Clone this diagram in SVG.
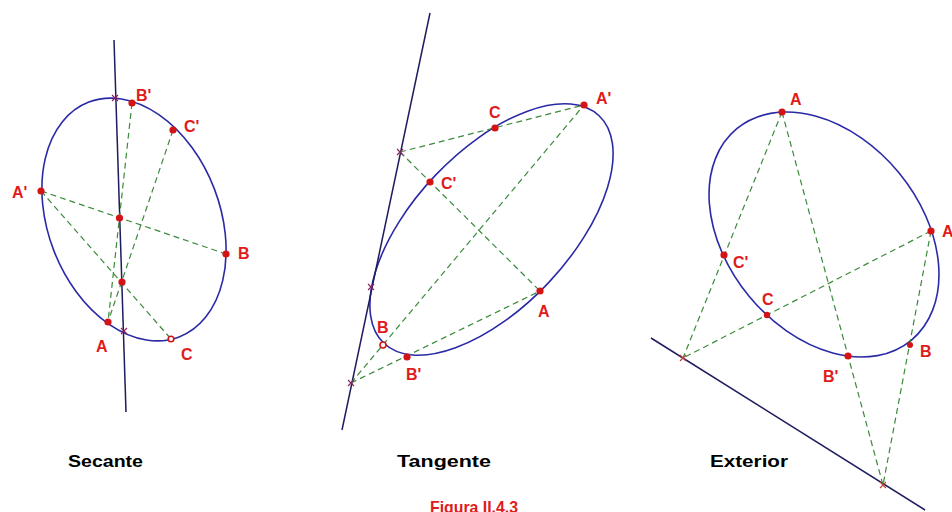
<svg xmlns="http://www.w3.org/2000/svg" width="952" height="512" viewBox="0 0 952 512">
<style>
.ell{fill:none;stroke:#2a2aa6;stroke-width:1.6}
.ln{fill:none;stroke:#1c1c5e;stroke-width:1.5}
.ds{fill:none;stroke:#3b8a3b;stroke-width:1.2;stroke-dasharray:6 4}
.pt{fill:#d41414}
.hpt{fill:#fff;stroke:#d41414;stroke-width:1.6}
.x{stroke:#8a2060;stroke-width:1.1}
.lb{font-family:"Liberation Sans",Arial,sans-serif;font-weight:bold;font-size:16px;fill:#e01b1b}
.tt{font-family:"Liberation Sans",Arial,sans-serif;font-weight:bold;font-size:17px;fill:#000}
</style>
<rect width="952" height="512" fill="#fff"/>

<g id="secante">
  <ellipse class="ell" cx="134" cy="219.5" rx="125.8" ry="86" transform="rotate(68.95 134 219.5)"/>
  <line class="ln" x1="114" y1="40" x2="126" y2="412"/>
  <g id="secante-connectors">
    <line class="ds" x1="41" y1="191" x2="226" y2="254"/>
    <line class="ds" x1="41" y1="191" x2="171" y2="339"/>
    <line class="ds" x1="132" y1="103" x2="108" y2="322"/>
    <line class="ds" x1="173" y1="130" x2="108" y2="322"/>
  </g>
  <path class="x" d="M112 95l6 6M118 95l-6 6M121 328l6 6M127 328l-6 6"/>
  <circle class="pt" cx="41" cy="191" r="3.6"/>
  <circle class="pt" cx="226" cy="254" r="3.6"/>
  <circle class="hpt" cx="171" cy="339" r="2.8"/>
  <circle class="pt" cx="108" cy="322" r="3.6"/>
  <circle class="pt" cx="132" cy="103" r="3.6"/>
  <circle class="pt" cx="173" cy="130" r="3.6"/>
  <circle class="pt" cx="119.5" cy="218" r="3.6"/>
  <circle class="pt" cx="122" cy="282" r="3.6"/>
  <text class="lb" x="136" y="101">B'</text>
  <text class="lb" x="184" y="132">C'</text>
  <text class="lb" x="12" y="198">A'</text>
  <text class="lb" x="238" y="259">B</text>
  <text class="lb" x="96" y="352">A</text>
  <text class="lb" x="181" y="360">C</text>
  <text class="tt" x="68" y="467" textLength="75" lengthAdjust="spacingAndGlyphs">Secante</text>
</g>

<g id="tangente">
  <ellipse class="ell" cx="491.5" cy="229.5" rx="156.6" ry="78" transform="rotate(-46.6 491.5 229.5)"/>
  <line class="ln" x1="430" y1="13" x2="342" y2="430"/>
  <g id="tangente-connectors">
    <line class="ds" x1="400" y1="152" x2="584" y2="105"/>
    <line class="ds" x1="400" y1="152" x2="540" y2="291"/>
    <line class="ds" x1="351" y1="383" x2="584" y2="105"/>
    <line class="ds" x1="351" y1="383" x2="540" y2="291"/>
  </g>
  <path class="x" d="M397 149l6 6M403 149l-6 6M368 284l6 6M374 284l-6 6M348 380l6 6M354 380l-6 6"/>
  <circle class="pt" cx="584" cy="105" r="3.6"/>
  <circle class="pt" cx="495" cy="128" r="3.6"/>
  <circle class="pt" cx="430" cy="182" r="3.6"/>
  <circle class="pt" cx="540" cy="291" r="3.6"/>
  <circle class="hpt" cx="383" cy="345" r="3"/>
  <circle class="pt" cx="407" cy="357" r="3.6"/>
  <text class="lb" x="489" y="118">C</text>
  <text class="lb" x="596" y="104">A'</text>
  <text class="lb" x="441" y="189">C'</text>
  <text class="lb" x="538" y="317">A</text>
  <text class="lb" x="377" y="333">B</text>
  <text class="lb" x="406" y="380">B'</text>
  <text class="tt" x="397" y="467" textLength="94" lengthAdjust="spacingAndGlyphs">Tangente</text>
</g>

<g id="exterior">
  <ellipse class="ell" cx="824" cy="234.5" rx="137.1" ry="97.1" transform="rotate(50.5 824 234.5)"/>
  <line class="ln" x1="651" y1="338" x2="925" y2="510"/>
  <g id="exterior-connectors">
    <line class="ds" x1="782" y1="112" x2="683" y2="358"/>
    <line class="ds" x1="931" y1="231" x2="683" y2="358"/>
    <line class="ds" x1="782" y1="112" x2="883" y2="485"/>
    <line class="ds" x1="931" y1="231" x2="883" y2="485"/>
  </g>
  <path class="x" d="M680 355l6 6M686 355l-6 6M880 482l6 6M886 482l-6 6" style="stroke:#c04040"/>
  <circle class="pt" cx="782" cy="112" r="3.6"/>
  <circle class="pt" cx="931" cy="231" r="3.6"/>
  <circle class="pt" cx="724" cy="255" r="3.6"/>
  <circle class="pt" cx="767" cy="315" r="3.2"/>
  <circle class="pt" cx="848" cy="356" r="3.6"/>
  <circle class="pt" cx="910" cy="345" r="3"/>
  <text class="lb" x="790" y="105">A</text>
  <text class="lb" x="942" y="237">A'</text>
  <text class="lb" x="733" y="268">C'</text>
  <text class="lb" x="762" y="305">C</text>
  <text class="lb" x="920" y="357">B</text>
  <text class="lb" x="823" y="382">B'</text>
  <text class="tt" x="710" y="467" textLength="78" lengthAdjust="spacingAndGlyphs">Exterior</text>
</g>

<text id="caption" class="tt" x="430" y="513" textLength="88" lengthAdjust="spacingAndGlyphs" style="fill:#e01b1b">Figura II.4.3</text>
</svg>
